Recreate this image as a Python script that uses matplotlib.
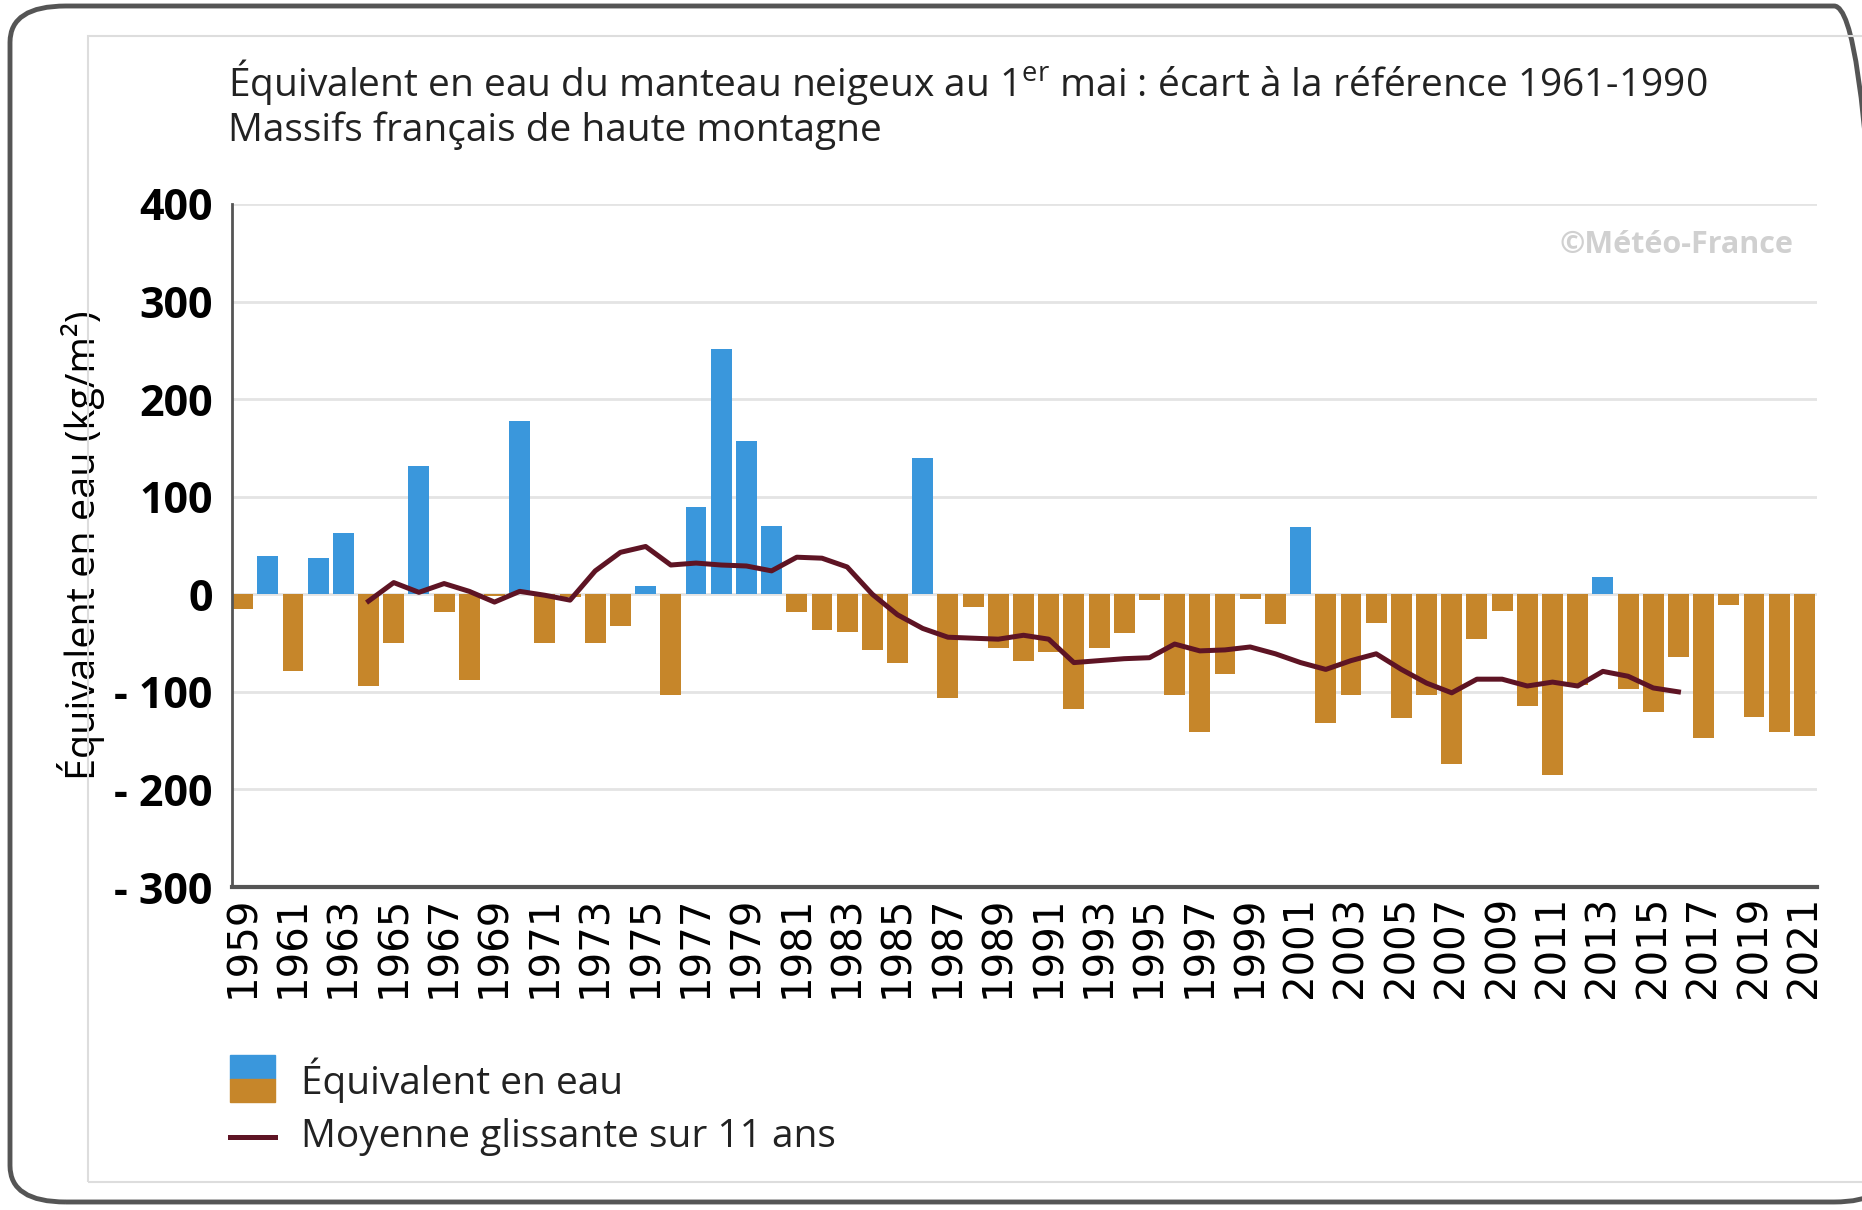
import numpy as np
import matplotlib.pyplot as plt
from matplotlib.patches import FancyBboxPatch, Rectangle
from matplotlib.lines import Line2D

plt.rcParams['font.family'] = ['Open Sans', 'DejaVu Sans']
plt.rcParams['mathtext.fontset'] = 'custom'
plt.rcParams['mathtext.rm'] = 'Open Sans'

years = np.arange(1959, 2022)
values = [-15, 39, -79, 37, 63, -94, -50, 131, -18, -88,
          -2, 178, -50, -3, -50, -33, 8, -103, 89, 251,
          157, 70, -18, -37, -39, -57, -70, 140, -106, -13,
          -55, -68, -59, -118, -55, -40, -6, -103, -141, -82,
          -5, -30, 69, -132, -103, -29, -127, -103, -174, -46,
          -17, -114, -185, -93, 18, -97, -121, -64, -147, -11,
          -126, -141, -145]

ma_years = np.arange(1964, 2017)
ma_values = [-7, 12, 2, 11, 3, -8, 3, -1, -6, 24,
             43, 49, 30, 32, 30, 29, 24, 38, 37, 28,
             0, -21, -35, -44, -45, -46, -42, -46, -70, -68,
             -66, -65, -51, -58, -57, -54, -61, -70, -77, -68,
             -61, -77, -91, -101, -87, -87, -94, -90, -94, -79,
             -84, -96, -100]

yticks = [400, 300, 200, 100, 0, -100, -200, -300]
ytick_labels = ['400', '300', '200', '100', '0', '- 100', '- 200', '- 300']

blue = '#3a97dc'
orange = '#c6862a'
line_col = '#5e1424'

fig = plt.figure(figsize=(18.62, 12.10), dpi=100)

# frames
fig.patches.append(FancyBboxPatch((10 / 1862, 8 / 1210), 1880 / 1862, 1196 / 1210,
                                  boxstyle='round,pad=0,rounding_size=0.03',
                                  transform=fig.transFigure, fill=False,
                                  edgecolor='#555555', linewidth=3.5, zorder=0))
fig.patches.append(Rectangle((88 / 1862, 28 / 1210), 1800 / 1862, 1146 / 1210,
                             transform=fig.transFigure, fill=False,
                             edgecolor='#dddddd', linewidth=1.5, zorder=0))

ax = fig.add_axes([232 / 1862, 1 - 887 / 1210, 1585 / 1862, 683 / 1210])

colors = [blue if v >= 0 else orange for v in values]
ax.bar(years, values, width=0.83, color=colors, zorder=2)
ax.plot(ma_years, ma_values, color=line_col, linewidth=3.6, zorder=3,
        solid_joinstyle='round')

ax.set_xlim(1958.58, 2021.5)
ax.set_ylim(-300, 400)
ax.set_yticks(yticks)
ax.set_yticklabels(ytick_labels, fontsize=31, fontweight='bold')
ax.set_xticks(years[::2])
ax.set_xticklabels([str(y) for y in years[::2]], rotation=90, fontsize=29,
                   family='DejaVu Sans')
ax.tick_params(axis='y', length=0, pad=14)
ax.tick_params(axis='x', length=0, pad=6)
ax.grid(axis='y', color='#e4e4e4', linewidth=2, zorder=0)
ax.set_axisbelow(True)
for s in ['top', 'right']:
    ax.spines[s].set_visible(False)
ax.spines['left'].set_color('#555555')
ax.spines['left'].set_linewidth(2)
ax.spines['bottom'].set_color('#555555')
ax.spines['bottom'].set_linewidth(3)

ax.set_ylabel('Équivalent en eau (kg/m²)', fontsize=28.5)
ax.yaxis.set_label_coords(-0.080, 0.5)

ax.text(0.985, 0.94, '©Météo-France', transform=ax.transAxes, ha='right', va='center',
        fontsize=22, fontweight='bold', color='#d0d0d0')

fig.text(228 / 1862, 1 - 82 / 1210,
         r'Équivalent en eau du manteau neigeux au 1$^{\mathrm{er}}$ mai : écart à la référence 1961-1990',
         fontsize=28, va='center', ha='left', color='#222222')
fig.text(228 / 1862, 1 - 131 / 1210, 'Massifs français de haute montagne',
         fontsize=28, va='center', ha='left', color='#222222')

# legend
lx, lw = 230 / 1862, 45 / 1862
fig.patches.append(Rectangle((lx, 1 - 1079 / 1210), lw, 24 / 1210,
                             transform=fig.transFigure, color=blue))
fig.patches.append(Rectangle((lx, 1 - 1102 / 1210), lw, 23 / 1210,
                             transform=fig.transFigure, color=orange))
fig.lines.append(Line2D([lx, lx + lw], [1 - 1137 / 1210] * 2, transform=fig.transFigure,
                        color=line_col, linewidth=3.6))
fig.text(301 / 1862, 1 - 1080 / 1210, 'Équivalent en eau', fontsize=28, va='center',
         color='#222222')
fig.text(301 / 1862, 1 - 1137 / 1210, 'Moyenne glissante sur 11 ans', fontsize=28,
         va='center', color='#222222')

fig.savefig('out.png', dpi=100, facecolor='white')
